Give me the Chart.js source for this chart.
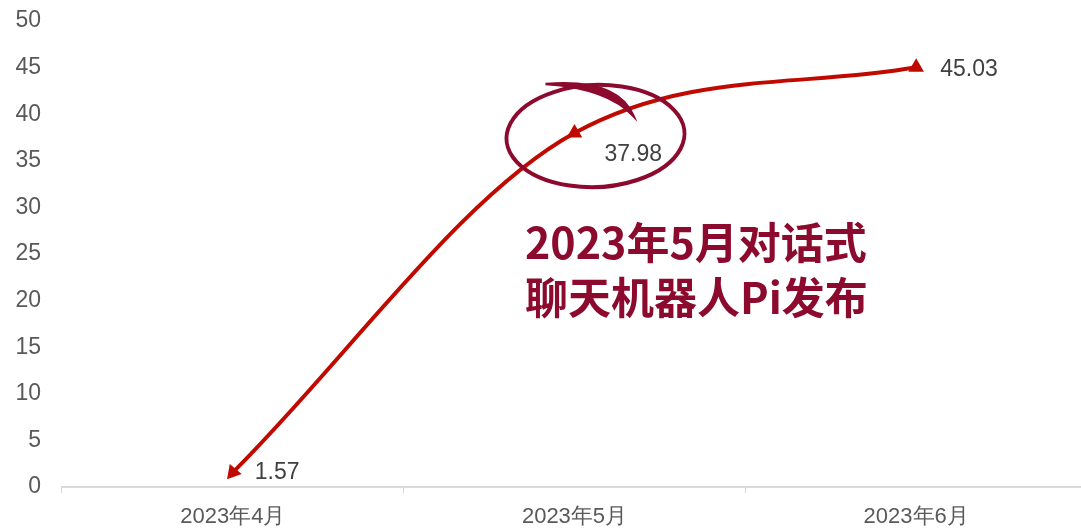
<!DOCTYPE html>
<html>
<head>
<meta charset="utf-8">
<script src="https://cdn.jsdelivr.net/npm/chart.js@4"></script>
<style>
  html, body { margin: 0; padding: 0; background: #fff; overflow: hidden; }
  #wrap { width: 1081px; height: 528px; overflow: hidden; }
</style>
</head>
<body>
<div id="wrap"><canvas id="chart" width="1096" height="528"></canvas></div>
<script>
const monate = ["2023年4月", "2023年5月", "2023年6月"];
const werte = [1.57, 37.98, 45.03];
const yTicks = [0, 5, 10, 15, 20, 25, 30, 35, 40, 45, 50];
const pfeilWinkel = [220, 240, 0];
const hinweisZeilen = ["2023年5月对话式", "聊天机器人Pi发布"];

const rot = "#C00A00";
const weinrot = "#8C0A2D";
const schrift = "'Liberation Sans', Arial, sans-serif";

// Werte neben den Punkten
const labelPlugin = {
  id: "wertLabels",
  afterDatasetsDraw(chart) {
    const ctx = chart.ctx;
    const meta = chart.getDatasetMeta(0);
    const versatz = [[22, 0], [30, 22], [24, 2]];
    ctx.save();
    ctx.font = "23px " + schrift;
    ctx.fillStyle = "#404040";
    ctx.textAlign = "left";
    ctx.textBaseline = "middle";
    meta.data.forEach((p, i) => {
      ctx.fillText(werte[i].toFixed(2), p.x + versatz[i][0], p.y + versatz[i][1]);
    });
    ctx.restore();
  }
};

// Kreis + Text um den Mai-Punkt
const hinweisPlugin = {
  id: "hinweis",
  afterDraw(chart) {
    const ctx = chart.ctx;
    const p = chart.getDatasetMeta(0).data[1];
    const cx = p.x + 21, cy = p.y + 3;
    ctx.save();
    ctx.strokeStyle = weinrot;
    ctx.fillStyle = weinrot;
    ctx.lineWidth = 4;
    ctx.beginPath();
    ctx.ellipse(cx, cy, 89, 51, -0.04, -1.25, 1.72 * Math.PI);
    ctx.stroke();
    // Schwung oben
    ctx.beginPath();
    ctx.moveTo(cx - 50, cy - 52);
    ctx.quadraticCurveTo(cx + 22, cy - 58, cx + 38, cy - 20);
    ctx.quadraticCurveTo(cx + 12, cy - 48, cx - 50, cy - 52);
    ctx.lineWidth = 2.5;
    ctx.stroke();
    ctx.fill();

    ctx.font = "bold 43px 'Noto Sans CJK SC', sans-serif";
    ctx.textAlign = "left";
    ctx.textBaseline = "alphabetic";
    ctx.fillText(hinweisZeilen[0], 525, 259);
    ctx.fillText(hinweisZeilen[1], 525, 314);
    ctx.restore();
  }
};

new Chart(document.getElementById("chart"), {
  type: "line",
  data: {
    labels: monate,
    datasets: [{
      data: werte,
      borderColor: rot,
      backgroundColor: rot,
      borderWidth: 4,
      cubicInterpolationMode: "monotone",
      pointStyle: "triangle",
      pointRadius: 9,
      pointRotation: pfeilWinkel,
      pointBorderWidth: 0,
      pointBackgroundColor: rot
    }]
  },
  options: {
    responsive: false,
    animation: false,
    layout: { padding: { top: 21, right: 0, left: 0, bottom: 0 } },
    plugins: { legend: { display: false }, tooltip: { enabled: false } },
    scales: {
      x: {
        offset: true,
        grid: { display: true, drawOnChartArea: false, drawTicks: true, tickLength: 6, color: "#D9D9D9", offset: true },
        border: { color: "#D9D9D9", width: 2 },
        ticks: { color: "#595959", font: { size: 22, family: schrift }, padding: 11 },
        afterFit: s => { s.height = 41; }
      },
      y: {
        min: 0, max: 50,
        afterBuildTicks: s => { s.ticks = yTicks.map(v => ({ value: v })); },
        grid: { display: false, drawTicks: true, tickLength: 21 },
        border: { display: false },
        ticks: { color: "#595959", font: { size: 23, family: schrift }, padding: 0 },
        afterFit: s => { s.width = 62; }
      }
    }
  },
  plugins: [labelPlugin, hinweisPlugin]
});
</script>
</body>
</html>
